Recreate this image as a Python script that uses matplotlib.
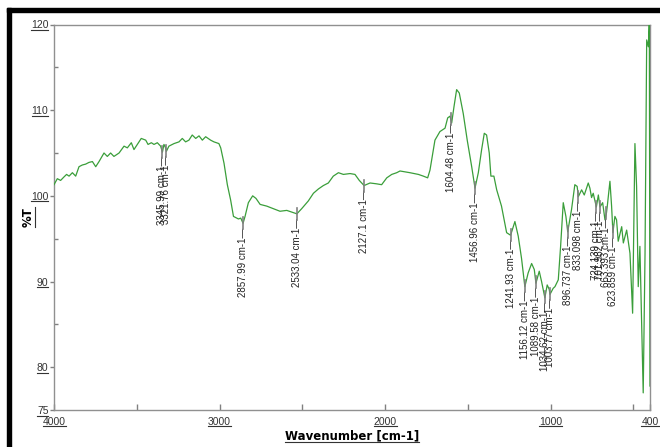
# FTIR spectrum - %T vs wavenumber
import numpy as np
import matplotlib.pyplot as plt
from matplotlib.lines import Line2D
from matplotlib.patches import Rectangle
from matplotlib.transforms import IdentityTransform

# spectrum (wavenumber descending)
wn = [4000, 3980, 3960, 3940, 3924, 3909, 3889, 3869, 3849, 3829, 3809, 3789, 3768,
      3748, 3728, 3698, 3678, 3658, 3638, 3607, 3577, 3557, 3533, 3517, 3497, 3473,
      3446, 3432, 3412, 3396, 3376, 3356, 3345, 3336, 3328, 3321, 3306, 3275, 3245,
      3225, 3205, 3185, 3165, 3144, 3124, 3104, 3084, 3054, 3034, 3004, 2993, 2973,
      2953, 2933, 2916, 2886, 2872, 2858, 2846, 2826, 2800, 2780, 2755, 2715, 2675,
      2635, 2594, 2564, 2533, 2504, 2464, 2433, 2403, 2373, 2343, 2313, 2282, 2252,
      2212, 2182, 2156, 2127, 2091, 2051, 2021, 1990, 1960, 1930, 1910, 1850, 1799,
      1769, 1743, 1729, 1699, 1669, 1638, 1622, 1608, 1598, 1584, 1568, 1552, 1528,
      1504, 1477, 1457, 1437, 1417, 1401, 1387, 1371, 1361, 1343, 1326, 1306, 1297,
      1266, 1242, 1216, 1196, 1176, 1156, 1136, 1115, 1099, 1089, 1069, 1055, 1035,
      1021, 1009, 1004, 985, 974, 954, 940, 924, 908, 897, 874, 854, 840, 833, 813,
      797, 773, 763, 753, 743, 724, 712, 702, 686, 672, 663, 658, 642, 632, 624, 612,
      602, 592, 571, 561, 541, 521, 505, 491, 481, 471, 461, 451, 441, 430, 420, 410,
      404, 400]
T = [101.3, 102.0, 101.8, 102.2, 102.5, 102.3, 102.7, 102.3, 103.4, 103.6, 103.7, 103.9, 104.0,
     103.4, 104.0, 105.0, 104.6, 105.0, 104.6, 105.0, 105.8, 105.6, 106.2, 105.4, 106.0, 106.7,
     106.5, 106.0, 106.2, 106.0, 106.2, 105.8, 105.1, 106.0, 105.7, 105.2, 105.8, 106.1, 106.3,
     106.7, 106.3, 106.5, 107.1, 106.7, 107.0, 106.5, 106.9, 106.5, 106.3, 106.1, 105.6, 103.8,
     101.3, 99.5, 97.6, 97.3, 97.4, 96.8, 97.6, 99.2, 100.0, 99.7, 99.0, 98.8, 98.5,
     98.2, 98.3, 98.1, 97.9, 98.5, 99.4, 100.3, 100.8, 101.2, 101.5, 102.3, 102.7, 102.5,
     102.6, 102.5, 101.8, 101.2, 101.5, 101.4, 101.3, 102.1, 102.5, 102.7, 102.9, 102.7, 102.5,
     102.3, 102.1, 103.0, 106.5, 107.5, 107.9, 109.1, 109.3, 108.5, 110.4, 112.4, 112.0, 109.6,
     106.5, 103.4, 100.9, 102.7, 105.4, 107.3, 107.1, 105.0, 102.3, 102.3, 100.7, 99.4, 98.8,
     95.7, 95.4, 97.0, 95.3, 92.7, 89.4, 91.0, 92.1, 91.4, 89.8, 91.2, 90.0, 88.1,
     89.6, 89.1, 88.5, 89.2, 89.4, 90.2, 94.1, 99.2, 97.6, 95.8, 98.4, 101.3, 101.1, 99.9, 100.7,
     100.1, 101.5, 100.9, 99.8, 100.3, 98.7, 100.1, 98.7, 99.2, 97.2, 98.0, 98.8, 101.7, 98.8, 95.7, 97.6,
     97.2, 94.7, 96.4, 94.5, 96.0, 93.3, 86.3, 106.1, 101.1, 89.4, 94.1, 85.5, 77.0, 93.3, 118.2, 117.4,
     120.5, 77.8]

peak_wn = [3345.99, 3321.76, 2857.99, 2533.04, 2127.1, 1604.48, 1456.96, 1241.93, 1156.12,
           1089.58, 1034.62, 1003.77, 896.737, 833.098, 724.139, 701.982, 663.393, 623.859]
peak_lab = ['3345.99', '3321.76', '2857.99', '2533.04', '2127.1', '1604.48', '1456.96', '1241.93',
            '1156.12', '1089.58', '1034.62', '1003.77', '896.737', '833.098', '724.139', '701.982',
            '663.393', '623.859']

plt.rcParams['font.family'] = ['Liberation Sans', 'DejaVu Sans']

fig = plt.figure(figsize=(6.6, 4.47), dpi=100)
ax = fig.add_axes([54/660, 1-410/447, 596/660, (410-24.5)/447])

ax.plot(wn, T, color='#3a9e3a', lw=0.9, zorder=3)

# peak markers + labels
wn_a = np.array(wn)[::-1]
T_a = np.array(T)[::-1]
for w, lab in zip(peak_wn, peak_lab):
    t = np.interp(w, wn_a, T_a)
    ax.plot([w, w], [t + 0.7, t - 0.7], color='#808080', lw=1.2, zorder=4)
    ax.annotate(lab + ' cm-1\u2014', xy=(w, t), xytext=(0, -3), textcoords='offset points',
                rotation=90, ha='center', va='top', fontsize=7, color='#222222')

ax.set_xlim(4000, 400)
ax.set_ylim(75, 120)
ax.set_xticks([4000, 3000, 2000, 1000, 400])
ax.set_xticks([3500, 2500, 1500, 500], minor=True)
ax.set_yticks([120, 110, 100, 90, 80, 75])
ax.set_yticks([115, 105, 95, 85], minor=True)
ax.tick_params(axis='x', which='both', direction='in', length=4, width=1, color='#808080',
               labelsize=7.5, labelcolor='#333333', pad=5)
ax.tick_params(axis='y', which='major', direction='out', length=3, width=1, color='#808080',
               labelsize=7.5, labelcolor='#333333', pad=1)
ax.tick_params(axis='y', which='minor', direction='in', length=3, width=1, color='#808080')
for s in ax.spines.values():
    s.set_color('#909090')
    s.set_linewidth(1)

ax.set_xlabel('Wavenumber [cm-1]', fontsize=8.5, fontweight='bold', family='DejaVu Sans', labelpad=2)
ax.set_ylabel('%T', fontsize=8.5, fontweight='bold', family='DejaVu Sans', labelpad=-3)

# black frame (left + top)
fig.patches.append(Rectangle((7/660, 0), 4/660, 1 - 8/447, transform=fig.transFigure,
                             color='black', zorder=10))
fig.patches.append(Rectangle((7/660, 1 - 12/447), 1, 4/447, transform=fig.transFigure,
                             color='black', zorder=10))

# underline tick labels and axis labels
fig.canvas.draw()
r = fig.canvas.get_renderer()
for t in ax.get_xticklabels() + ax.get_yticklabels() + [ax.xaxis.label]:
    if not t.get_text():
        continue
    bb = t.get_window_extent(r)
    fig.add_artist(Line2D([bb.x0, bb.x1], [bb.y0 + 0.5, bb.y0 + 0.5], transform=IdentityTransform(),
                          color='#333333', lw=0.8))
bb = ax.yaxis.label.get_window_extent(r)
fig.add_artist(Line2D([bb.x1 - 0.5, bb.x1 - 0.5], [bb.y0, bb.y1], transform=IdentityTransform(),
                      color='#333333', lw=0.8))

fig.savefig('out.png', dpi=100)
